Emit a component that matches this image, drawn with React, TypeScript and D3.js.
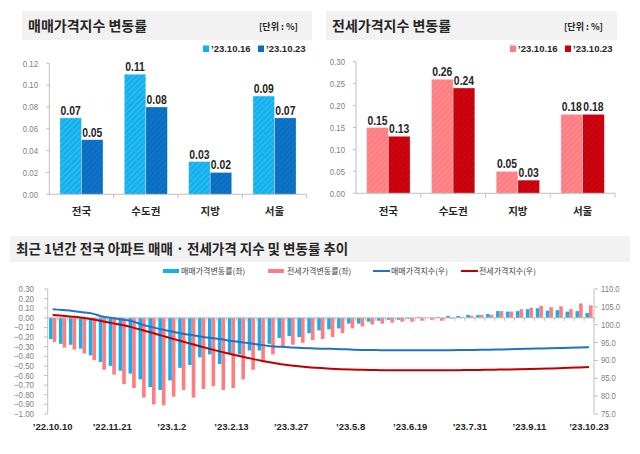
import React from "react";
import * as d3 from "d3";

// ---------- DATA ----------
const regions = ["전국", "수도권", "지방", "서울"];
const saleChangePrev = [0.07, 0.11, 0.03, 0.09]; // '23.10.16
const saleChangeCurr = [0.05, 0.08, 0.02, 0.07]; // '23.10.23
const jeonseChangePrev = [0.15, 0.26, 0.05, 0.18];
const jeonseChangeCurr = [0.13, 0.24, 0.03, 0.18];
const saleTicks = [0, 0.02, 0.04, 0.06, 0.08, 0.1, 0.12];
const jeonseTicks = [0, 0.05, 0.1, 0.15, 0.2, 0.25, 0.3];
const dateLabels = ["’23.10.16", "’23.10.23"];

const weeklySaleChange = [
  -0.22, -0.27, -0.28, -0.32, -0.39, -0.46, -0.5, -0.55, -0.58, -0.64,
  -0.72, -0.75, -0.65, -0.52, -0.49, -0.41, -0.38, -0.48, -0.37, -0.38,
  -0.34, -0.34, -0.27, -0.21, -0.19, -0.2, -0.16, -0.13, -0.12, -0.11,
  -0.06, -0.06, -0.04, -0.03, -0.02, -0.02, -0.01, 0.01, 0.0, 0.01,
  0.02, 0.02, 0.03, 0.03, 0.04, 0.07, 0.065, 0.07, 0.09, 0.1,
  0.075, 0.08, 0.065, 0.07, 0.05,
];
const weeklyJeonseChange = [
  -0.25, -0.31, -0.33, -0.37, -0.44, -0.54, -0.59, -0.69, -0.73, -0.83,
  -0.9, -0.91, -0.82, -0.75, -0.83, -0.74, -0.71, -0.75, -0.73, -0.64,
  -0.54, -0.46, -0.38, -0.3, -0.28, -0.26, -0.23, -0.22, -0.2, -0.16,
  -0.11, -0.09, -0.07, -0.06, -0.05, -0.04, -0.04, -0.03, -0.02, -0.03,
  -0.01, 0.01, 0.02, 0.03, 0.03, 0.07, 0.065, 0.09, 0.105, 0.125,
  0.11, 0.12, 0.09, 0.15, 0.13,
];
const saleIndex = [
  104.35, 104.1, 103.85, 103.5, 103.1, 102.3, 101.9, 101.45, 101.0, 100.02,
  99.33, 98.65, 98.1, 97.55, 97.1, 96.62, 96.25, 95.9, 95.45, 95.1,
  94.75, 94.35, 94.0, 93.8, 93.6, 93.5, 93.4, 93.3, 93.25, 93.15,
  93.05, 92.95, 92.9, 92.88, 92.86, 92.85, 92.85, 92.85, 92.86, 92.87,
  92.88, 92.9, 92.93, 92.97, 93.0, 93.06, 93.12, 93.2, 93.28, 93.34,
  93.4, 93.47, 93.54, 93.62, 93.71,
];
const jeonseIndex = [
  102.7, 102.5, 102.25, 101.95, 101.5, 101.0, 100.45, 99.9, 99.25, 98.5,
  97.75, 96.95, 96.15, 95.35, 94.6, 93.85, 93.1, 92.4, 91.75, 91.1,
  90.5, 89.9, 89.4, 88.95, 88.6, 88.3, 88.05, 87.85, 87.68, 87.55,
  87.45, 87.38, 87.32, 87.28, 87.25, 87.23, 87.22, 87.22, 87.22, 87.23,
  87.25, 87.28, 87.31, 87.35, 87.39, 87.43, 87.48, 87.54, 87.6, 87.67,
  87.75, 87.84, 87.93, 88.04, 88.15,
];
const weekTickLabels = [
  "’22.10.10", "’22.11.21", "’23.1.2", "’23.2.13", "’23.3.27",
  "’23.5.8", "’23.6.19", "’23.7.31", "’23.9.11", "’23.10.23",
];
const leftTicks = [0.3, 0.2, 0.1, 0, -0.1, -0.2, -0.3, -0.4, -0.5, -0.6, -0.7, -0.8, -0.9, -1.0];
const rightTicks = [110, 105, 100, 95, 90, 85, 80, 75];
const legendNames = ["매매가격변동률(좌)", "전세가격변동률(좌)", "매매가격지수(우)", "전세가격지수(우)"];

// ---------- STYLE ----------
const KR = "'Noto Sans CJK KR', 'Noto Sans', sans-serif";
const NUM = "'Liberation Sans', Arial, sans-serif";
const DARK = "#262626";
const GRAY = "#808080";
const AXIS = "#bfbfbf";
const C_SALE_L = "#12b0ee";
const C_SALE_D = "#0a6fc2";
const C_JEON_L = "#ff7c80";
const C_JEON_D = "#c8000b";
const C_LINE_B = "#1f72c4";
const C_LINE_R = "#c00000";

// narrow text: horizontally condensed
function NText(props: { x: number; y: number; sx?: number; anchor?: string; size: number; bold?: boolean; fill: string; family?: string; children: React.ReactNode }) {
  const sx = props.sx ?? 0.8;
  return (
    <text
      transform={`translate(${props.x},${props.y}) scale(${sx},1)`}
      textAnchor={props.anchor ?? "start"}
      fontFamily={props.family ?? NUM}
      fontWeight={props.bold ? 700 : 400}
      fontSize={props.size}
      fill={props.fill}
    >
      {props.children}
    </text>
  );
}

function HatchDefs() {
  const mk = (id: string, base: string, stripe: string) => (
    <pattern id={id} patternUnits="userSpaceOnUse" width={4} height={4} patternTransform="rotate(45)">
      <rect width={4} height={4} fill={base} />
      <line x1={0} y1={0} x2={0} y2={4} stroke={stripe} strokeWidth={1.2} opacity={0.3} />
    </pattern>
  );
  return (
    <defs>
      {mk("hSaleL", C_SALE_L, "#ffffff")}
      {mk("hSaleD", C_SALE_D, "#4a9be0")}
      {mk("hJeonL", C_JEON_L, "#ffffff")}
      {mk("hJeonD", C_JEON_D, "#e84040")}
    </defs>
  );
}

type PanelProps = {
  x0: number; x1: number; yTop: number; yBottom: number;
  titleX: number; titleW: number; title: string;
  ticks: number[]; maxV: number; prev: number[]; curr: number[];
  fillPrev: string; fillCurr: string; colPrev: string; colCurr: string;
  labelRight: number; legendX: number; unitRight: number;
};

function Panel(p: PanelProps) {
  const y = d3.scaleLinear().domain([0, p.maxV]).range([p.yBottom, p.yTop]);
  const x = d3.scaleBand().domain(regions).range([p.x0, p.x1]);
  const bw = x.bandwidth() * 0.335;
  const fmt = d3.format(".2f");
  return (
    <g>
      <rect x={p.titleX} y={11} width={p.titleW} height={29} fill="#f2f2f2" />
      <text x={p.titleX + 6} y={31} fontFamily={KR} fontWeight={700} fontSize={14} fill={DARK}>{p.title}</text>
      <text x={p.unitRight} y={30} textAnchor="end" fontFamily={KR} fontWeight={700} fontSize={9} fill={DARK}>[단위 : %]</text>
      {[0, 1].map((k) => (
        <g key={k}>
          <rect x={p.legendX + k * 55} y={45.5} width={6} height={6.5} fill={k === 0 ? p.colPrev : p.colCurr} />
          <text x={p.legendX + 8 + k * 55} y={52} fontFamily={NUM} fontWeight={700} fontSize={9.5} fill={DARK}>{dateLabels[k]}</text>
        </g>
      ))}
      <line x1={p.x0} x2={p.x0} y1={p.yTop} y2={p.yBottom} stroke={AXIS} />
      {p.ticks.map((t) => (
        <g key={t}>
          <line x1={p.x0 - 3} x2={p.x0} y1={y(t)} y2={y(t)} stroke={AXIS} />
          <NText x={p.labelRight} y={y(t) + 3.3} anchor="end" size={9.5} sx={0.82} fill={GRAY}>{fmt(t)}</NText>
        </g>
      ))}
      {regions.map((r, i) => (
        <g key={r}>
          <rect x={x(r)! + x.bandwidth() / 2 - bw} y={y(p.prev[i])} width={bw} height={p.yBottom - y(p.prev[i])} fill={`url(#${p.fillPrev})`} stroke="#ffffff" strokeOpacity={0.5} strokeWidth={0.6} />
          <rect x={x(r)! + x.bandwidth() / 2} y={y(p.curr[i])} width={bw} height={p.yBottom - y(p.curr[i])} fill={`url(#${p.fillCurr})`} stroke="#ffffff" strokeOpacity={0.5} strokeWidth={0.6} />
          <NText x={x(r)! + x.bandwidth() / 2 - bw / 2} y={y(p.prev[i]) - 3} anchor="middle" size={13} sx={0.8} bold fill={DARK}>{fmt(p.prev[i])}</NText>
          <NText x={x(r)! + x.bandwidth() / 2 + bw / 2} y={y(p.curr[i]) - 3} anchor="middle" size={13} sx={0.8} bold fill={DARK}>{fmt(p.curr[i])}</NText>
          <text x={x(r)! + x.bandwidth() / 2} y={215} textAnchor="middle" fontFamily={KR} fontWeight={700} fontSize={10.5} fill={DARK}>{r}</text>
          <line x1={x(r)! + x.bandwidth()} x2={x(r)! + x.bandwidth()} y1={p.yBottom} y2={p.yBottom + 4} stroke={AXIS} />
        </g>
      ))}
      <line x1={p.x0} x2={p.x1} y1={p.yBottom} y2={p.yBottom} stroke={AXIS} />
    </g>
  );
}

function TrendChart() {
  const weeks = d3.range(weeklySaleChange.length);
  const x = d3.scaleBand<number>().domain(weeks).range([47.7, 594]);
  const yL = d3.scaleLinear().domain([-1.0, 0.3]).range([414, 289]);
  const yR = d3.scaleLinear().domain([75, 110]).range([414, 289]);
  const bw = 3.6;
  const cx = (i: number) => x(i)! + x.bandwidth() / 2;
  const lineS = d3.line<number>().x((_, i) => cx(i)).y((d) => yR(d)).curve(d3.curveMonotoneX);
  const z = yL(0);
  return (
    <g>
      <rect x={10} y={236} width={620} height={26} fill="#f2f2f2" />
      <text x={16} y={254} fontFamily={KR} fontWeight={700} fontSize={13.5} fill={DARK}>최근 1년간 전국 아파트 매매 · 전세가격 지수 및 변동률 추이</text>
      <rect x={163} y={269} width={16} height={4} fill={C_SALE_L} />
      <text x={181} y={274} fontFamily={KR} fontSize={8} fill="#404040">{legendNames[0]}</text>
      <rect x={268} y={269} width={16} height={4} fill={C_JEON_L} />
      <text x={287} y={274} fontFamily={KR} fontSize={8} fill="#404040">{legendNames[1]}</text>
      <line x1={373} x2={390} y1={271} y2={271} stroke={C_LINE_B} strokeWidth={2} />
      <text x={391} y={274} fontFamily={KR} fontSize={8} fill="#404040">{legendNames[2]}</text>
      <line x1={461} x2={478} y1={271} y2={271} stroke={C_LINE_R} strokeWidth={2} />
      <text x={479} y={274} fontFamily={KR} fontSize={8} fill="#404040">{legendNames[3]}</text>

      {weeks.map((i) => {
        const s = weeklySaleChange[i];
        const j = weeklyJeonseChange[i];
        return (
          <g key={i}>
            <rect x={cx(i) - bw} y={Math.min(yL(s), z)} width={bw} height={Math.abs(yL(s) - z)} fill={C_SALE_L} />
            <rect x={cx(i)} y={Math.min(yL(j), z)} width={bw} height={Math.abs(yL(j) - z)} fill={C_JEON_L} />
          </g>
        );
      })}
      <line x1={47.7} x2={47.7} y1={289} y2={414} stroke={AXIS} />
      {leftTicks.map((t) => (
        <g key={t}>
          <line x1={44} x2={47.7} y1={yL(t)} y2={yL(t)} stroke={AXIS} />
          <NText x={34} y={yL(t) + 3} anchor="end" size={9} sx={0.88} fill={GRAY}>{d3.format(".2f")(t)}</NText>
        </g>
      ))}
      <line x1={594} x2={594} y1={289} y2={414} stroke={AXIS} />
      {rightTicks.map((t) => (
        <g key={t}>
          <line x1={594} x2={598} y1={yR(t)} y2={yR(t)} stroke={AXIS} />
          <NText x={601} y={yR(t) + 3} size={9} sx={0.85} fill={GRAY}>{d3.format(".1f")(t)}</NText>
        </g>
      ))}
      <line x1={47.7} x2={594} y1={z} y2={z} stroke={AXIS} />
      {weeks.map((i) => (
        <line key={i} x1={x(i)! + x.bandwidth()} x2={x(i)! + x.bandwidth()} y1={z} y2={z + 3} stroke={AXIS} />
      ))}
      {weekTickLabels.map((lab, k) => (
        <text key={lab} x={cx(k * 6)} y={430} textAnchor="middle" fontFamily={NUM} fontWeight={700} fontSize={9.5} fill={DARK}>{lab}</text>
      ))}
      <path d={lineS(saleIndex)!} fill="none" stroke={C_LINE_B} strokeWidth={2} />
      <path d={lineS(jeonseIndex)!} fill="none" stroke={C_LINE_R} strokeWidth={2} />
    </g>
  );
}

export default function App() {
  return (
    <svg width={640} height={454} style={{ position: "absolute", left: 0, top: 0, background: "#fff" }}>
      <HatchDefs />
      <rect width={640} height={454} fill="#fff" />
      <Panel x0={49.3} x1={306.7} yTop={63.3} yBottom={194.3} titleX={22} titleW={290} title="매매가격지수 변동률"
        ticks={saleTicks} maxV={0.12} prev={saleChangePrev} curr={saleChangeCurr}
        fillPrev="hSaleL" fillCurr="hSaleD" colPrev={C_SALE_L} colCurr={C_SALE_D}
        labelRight={38} legendX={203} unitRight={298} />
      <Panel x0={356} x1={615} yTop={61.7} yBottom={193.3} titleX={326} titleW={291} title="전세가격지수 변동률"
        ticks={jeonseTicks} maxV={0.3} prev={jeonseChangePrev} curr={jeonseChangeCurr}
        fillPrev="hJeonL" fillCurr="hJeonD" colPrev={C_JEON_L} colCurr={C_JEON_D}
        labelRight={345} legendX={510} unitRight={603} />
      <TrendChart />
    </svg>
  );
}
